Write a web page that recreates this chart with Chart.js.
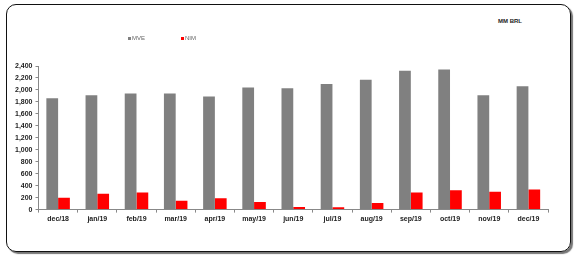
<!DOCTYPE html>
<html>
<head>
<meta charset="utf-8">
<script src="https://cdn.jsdelivr.net/npm/chart.js@4.4.0/dist/chart.umd.min.js"></script>
<style>
    body { margin: 0; background: #fff; }
    #wrap { position: relative; width: 576px; height: 259px; }
    #frame {
        position: absolute; left: 6px; top: 4px; width: 563px; height: 246px;
        border: 1.5px solid #111; border-radius: 10px;
        box-shadow: 2px 2px 1px #777;
    }
    #unit {
        position: absolute; left: 498px; top: 18px;
        font: bold 6px Arial, "Liberation Sans", sans-serif; color: #222;
    }
    #chart { position: absolute; left: 0; top: 0; }
</style>
</head>
<body>
<div id="wrap">
    <div id="frame"></div>
    <div id="unit">MM BRL</div>
    <canvas id="chart" width="576" height="259"></canvas>
</div>
<script>
const labels = ["dec/18", "jan/19", "feb/19", "mar/19", "apr/19", "may/19", "jun/19",
    "jul/19", "aug/19", "sep/19", "oct/19", "nov/19", "dec/19"];
const mveValues = [1860, 1910, 1940, 1940, 1890, 2040, 2030, 2100, 2170, 2320, 2340, 1910, 2060];
const nimValues = [200, 265, 285, 150, 190, 125, 45, 40, 110, 285, 325, 300, 335];
const yTicks = [0, 200, 400, 600, 800, 1000, 1200, 1400, 1600, 1800, 2000, 2200, 2400];

const fontFamily = "Arial, 'Liberation Sans', sans-serif";

// legend drawn by hand, it sits left of center in the original
const legendPlugin = {
    id: "smallLegend",
    afterDraw: (chart) => {
        const ctx = chart.ctx;
        const xs = [128, 181];
        ctx.save();
        ctx.font = "6px " + fontFamily;
        ctx.textBaseline = "middle";
        chart.data.datasets.forEach((ds, i) => {
            ctx.fillStyle = ds.backgroundColor;
            ctx.fillRect(xs[i], 37, 3, 3);
            ctx.fillStyle = "#666";
            ctx.fillText(ds.label, xs[i] + 4, 38.5);
        });
        ctx.restore();
    },
};

let ctx = document.getElementById("chart").getContext("2d");

let data = {
    labels: labels,
    datasets: [
        {
            label: "MVE",
            backgroundColor: "#808080",
            data: mveValues,
        },
        {
            label: "NIM",
            backgroundColor: "#ff0000",
            data: nimValues,
        },
    ],
};

let options = {
    responsive: false,
    animation: false,
    layout: {
        padding: { left: 12, right: 28, top: 66, bottom: 34 },
    },
    plugins: {
        legend: { display: false },
        tooltip: { enabled: false },
    },
    datasets: {
        bar: {
            categoryPercentage: 0.6,
            barPercentage: 1.0,
        },
    },
    scales: {
        x: {
            grid: {
                display: true,
                drawOnChartArea: false,
                drawTicks: true,
                tickLength: 3,
                color: "#888",
            },
            border: { color: "#888", width: 1 },
            ticks: {
                color: "#222",
                font: { family: fontFamily, size: 7, weight: "bold" },
                padding: 2,
                maxRotation: 0,
                autoSkip: false,
            },
        },
        y: {
            min: 0,
            max: 2400,
            afterBuildTicks: (axis) => {
                axis.ticks = yTicks.map((v) => ({ value: v }));
            },
            grid: {
                display: true,
                drawOnChartArea: false,
                drawTicks: true,
                tickLength: 3,
                color: "#888",
            },
            border: { color: "#888", width: 1 },
            ticks: {
                color: "#222",
                font: { family: fontFamily, size: 7, weight: "bold" },
                padding: 3,
                callback: (v) => v.toLocaleString("en-US"),
            },
        },
    },
};

let myChart = new Chart(ctx, {
    type: "bar",
    data: data,
    options: options,
    plugins: [legendPlugin],
});
</script>
</body>
</html>
